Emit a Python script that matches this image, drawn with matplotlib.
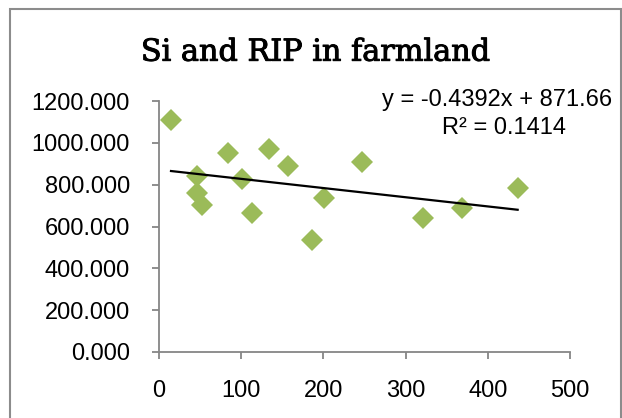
import matplotlib
matplotlib.use("Agg")
import matplotlib.pyplot as plt
import matplotlib.patheffects as pe
from matplotlib.patches import Rectangle
import numpy as np

# ---- data ----
si_values = [14.6, 45.9, 45.9, 52.7, 83.6, 100.6, 112.8, 133.8, 157.3, 185.8,
             201.1, 247.3, 321.5, 369.0, 436.3]
rip_values = [1108, 841, 761, 705, 953, 825, 665, 972, 889, 534,
              734, 910, 641, 689, 785]
trend_slope = -0.4392
trend_intercept = 871.66
r_squared = 0.1414
x_ticks = [0, 100, 200, 300, 400, 500]
y_ticks = [0, 200, 400, 600, 800, 1000, 1200]
title = "Si and RIP in farmland"

W, H = 622, 418
fig = plt.figure(figsize=(W / 100, H / 100), dpi=100)
fig.patch.set_facecolor("white")

def fx(px):
    return px / W

def fy(py):
    return 1 - py / H

ax = fig.add_axes([fx(159), fy(352), fx(570) - fx(159), fy(101) - fy(352)])
ax.set_xlim(x_ticks[0], x_ticks[-1])
ax.set_ylim(y_ticks[0], y_ticks[-1])
ax.set_xticks(x_ticks)
ax.set_yticks(y_ticks)
ax.set_xticklabels([str(v) for v in x_ticks])
ax.set_yticklabels([f"{v:.3f}" for v in y_ticks])

axis_gray = "#868686"
for side in ("top", "right"):
    ax.spines[side].set_visible(False)
for side in ("left", "bottom"):
    ax.spines[side].set_color(axis_gray)
    ax.spines[side].set_linewidth(1.3)
ax.tick_params(axis="both", direction="out", length=5, width=1.3, color=axis_gray,
               labelsize=17, labelcolor="black")
ax.tick_params(axis="y", pad=16)
ax.tick_params(axis="x", pad=15)
for lab in ax.get_xticklabels() + ax.get_yticklabels():
    lab.set_fontfamily("Liberation Sans")

ax.plot(si_values, rip_values, linestyle="none", marker="D", markersize=10.8,
        markerfacecolor="#9BBB59", markeredgewidth=0, zorder=3, clip_on=False)

xs = np.array([min(si_values), max(si_values)])
ax.plot(xs, trend_slope * xs + trend_intercept, color="black", linewidth=1.6, zorder=4)

fig.text(fx(315.5), fy(60.7), title, ha="center", va="baseline",
         fontsize=21.8, family="DejaVu Serif", color="black",
         path_effects=[pe.withStroke(linewidth=0.7, foreground="black")])

fig.text(fx(497.5), fy(100), f"y = {trend_slope}x + {trend_intercept}",
         ha="center", va="center", fontsize=17, family="Liberation Sans", color="black")
fig.text(fx(503.5), fy(128), f"R² = {r_squared}",
         ha="center", va="center", fontsize=17, family="Liberation Sans", color="black")

border = Rectangle((fx(9.5), fy(430)), fx(620.5) - fx(9.5), fy(9.5) - fy(430),
                   transform=fig.transFigure, fill=False, edgecolor="#8c8c8c",
                   linewidth=1.5, clip_on=False)
fig.add_artist(border)

fig.savefig("out.png", dpi=100)
